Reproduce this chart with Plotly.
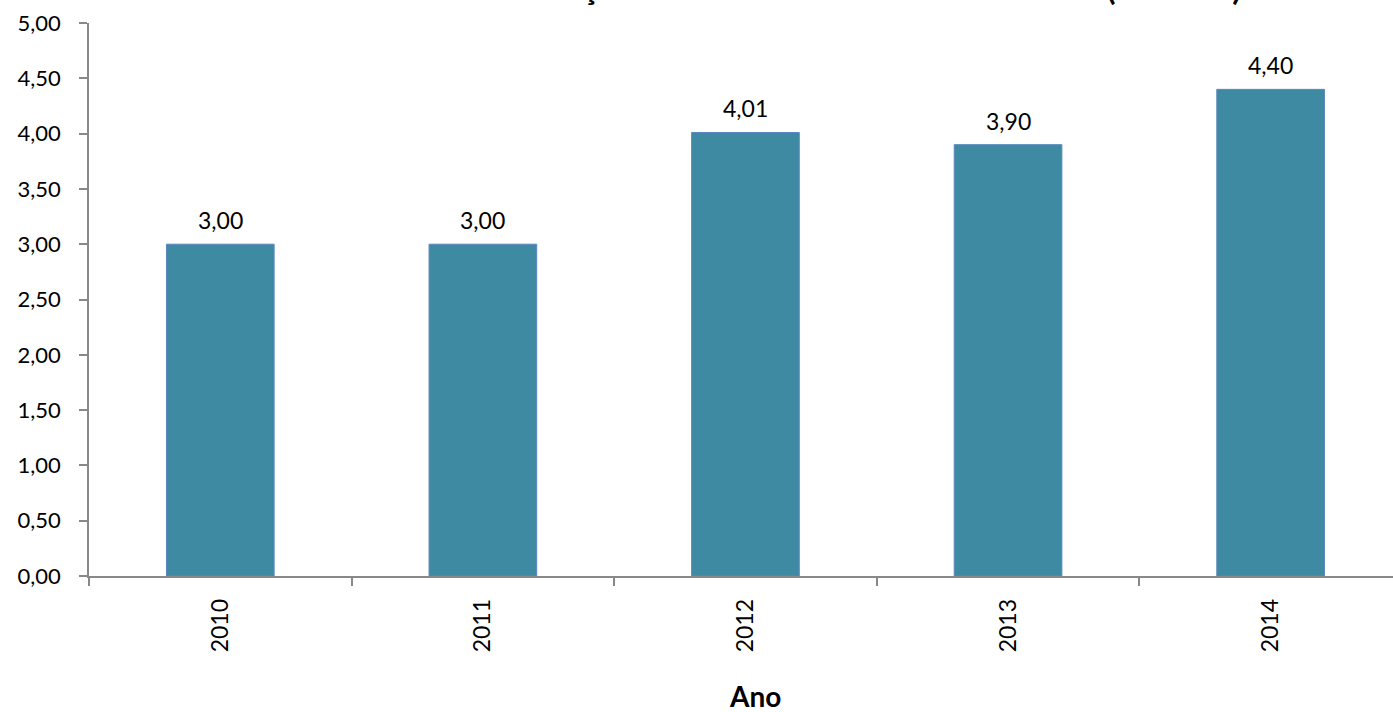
import plotly.graph_objects as go

anos = ["2010", "2011", "2012", "2013", "2014"]
valores = [3.00, 3.00, 4.01, 3.90, 4.40]
y_ticks = [0, 0.5, 1, 1.5, 2, 2.5, 3, 3.5, 4, 4.5, 5]
titulo = "Duração Média dos Cursos de Doutorado (em anos)"
eixo_x_titulo = "Ano"

FONT = "Lato"
bar_color = "#3F8AA3"

fig = go.Figure()
fig.add_trace(go.Bar(
    x=anos, y=valores,
    marker=dict(color=bar_color, line=dict(color="#5B87C0", width=1)),
    width=0.41,
    hoverinfo="skip",
))

for i, v in enumerate(valores):
    fig.add_annotation(x=i, y=v, xref="x", yref="y",
                       text=f"{v:.2f}".replace(".", ","),
                       showarrow=False, yanchor="bottom", yshift=8,
                       font=dict(family=FONT, size=23, color="#000000"))

fig.add_annotation(text=f"<b>{eixo_x_titulo}</b>", xref="paper", yref="paper",
                   x=0.511, y=-0.217, xanchor="center", yanchor="middle",
                   showarrow=False, font=dict(family=FONT, size=28, color="#000000"))

fig.add_annotation(text=f"<b>{titulo}</b>", xref="paper", yref="paper",
                   x=(1243 - 89) / 1304, y=1.0253, xanchor="right", yanchor="bottom",
                   showarrow=False, font=dict(family=FONT, size=32, color="#000000"))

fig.update_layout(
    width=1393, height=712,
    margin=dict(l=89, r=0, t=23, b=136),
    paper_bgcolor="white", plot_bgcolor="white",
    separators=",.",
    showlegend=False,
    font=dict(family=FONT, color="#000000"),
)
fig.update_xaxes(
    type="category", range=[-0.5, 4.466],
    showline=True, linecolor="#888888", linewidth=1.5,
    ticks="outside", ticklen=8, tickcolor="#888888", tickwidth=1.5,
    tickson="boundaries", tickangle=-90, ticklabelstandoff=12,
    tickfont=dict(family=FONT, size=23, color="#000000"),
    showgrid=False, zeroline=False,
)
fig.update_yaxes(
    range=[0, 5], tickvals=y_ticks, tickformat=".2f",
    showline=True, linecolor="#888888", linewidth=1.5,
    ticks="outside", ticklen=8, tickcolor="#888888", tickwidth=1.5,
    ticklabelstandoff=14,
    tickfont=dict(family=FONT, size=22, color="#000000"),
    showgrid=False, zeroline=False,
)

fig.write_html("out.html", config={"displayModeBar": False},
               post_script="document.body.style.margin='0';document.body.style.overflow='hidden';")
